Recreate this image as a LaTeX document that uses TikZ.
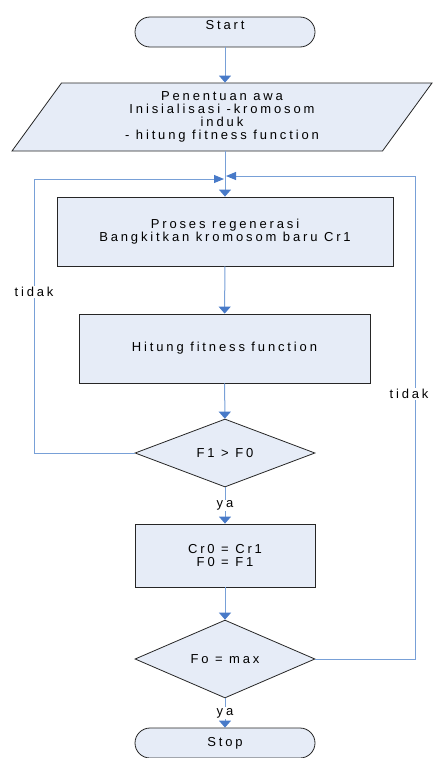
\documentclass[tikz,border=0pt]{standalone}
\usepackage{fontspec}
\newfontfamily\visfont[LetterSpace=22]{Liberation Sans}
\usetikzlibrary{shapes,arrows.meta}
\definecolor{boxfill}{RGB}{230,236,247}
\definecolor{flowline}{RGB}{120,160,215}
\definecolor{flowtip}{RGB}{72,122,200}
\tikzset{
  txt/.style={font=\visfont\fontsize{13}{13.2}\selectfont},
  box/.style={txt, draw=black!85, fill=boxfill, line width=0.8pt, align=center, inner sep=0pt},
  term/.style={box, rectangle, rounded corners=15pt, minimum width=180pt, minimum height=30pt},
  proc/.style={box, rectangle},
  para/.style={box, trapezium, trapezium left angle=46, trapezium right angle=134,
    trapezium stretches body, minimum width=420pt, minimum height=68pt},
  cond/.style={box, diamond, minimum width=180pt, minimum height=68pt},
  flow/.style={draw=flowline, line width=1pt, -{Triangle[length=7pt,width=12pt,color=flowtip]}},
  merge/.style={draw=flowline, line width=1pt, -{Triangle[length=10pt,width=8pt,color=flowtip]}},
  lbl/.style={txt, fill=white, inner sep=1pt}
}
\begin{document}
\begin{tikzpicture}[x=1pt, y=-1pt]
\useasboundingbox (0,0) rectangle (432,758);
% steps
\node[term] (start) at (225,32) {\raisebox{14pt}{Start}};
\node[para] (init) at (222,117) {Penentuan awa\\Inisialisasi -kromosom\\induk\\- hitung fitness function};
\node[proc, minimum width=336pt, minimum height=69pt] (regen) at (225,231.5) {Proses regenerasi\\Bangkitkan kromosom baru Cr1};
\node[proc, minimum width=291pt, minimum height=69pt] (fit) at (224.5,348.5) {Hitung fitness function};
\node[cond] (cek1) at (225,453) {F1 > F0};
\node[proc, minimum width=180pt, minimum height=63pt] (swap) at (225,555.5) {Cr0 = Cr1\\F0 = F1};
\node[cond] (cek2) at (225,659) {Fo = max};
\node[term] (stop) at (225,743) {Stop};
% loop points
\coordinate (mergeL) at (224,179);
\coordinate (mergeR) at (226,176);
\coordinate (sideL) at (34,179);
\coordinate (sideR) at (415,176);
% connectors
\draw[flow] (start) -- (start |- init.north);
\draw[flow] (start |- init.south) -- (regen);
\draw[flow] (regen) -- (fit);
\draw[flow] (fit) -- (cek1);
\draw[flow] (cek1) -- node[lbl] (ya1) {ya} (swap);
\draw[flow] (swap) -- (cek2);
\draw[flow] (cek2) -- node[lbl] (ya2) {ya} (stop);
\draw[merge] (cek1.west) -| (sideL) -- (mergeL);
\draw[merge] (cek2.east) -| (sideR) -- (mergeR);
\node[lbl] (noL) at (34,292) {tidak};
\node[lbl] (noR) at (409,394) {tidak};
\end{tikzpicture}
\end{document}
